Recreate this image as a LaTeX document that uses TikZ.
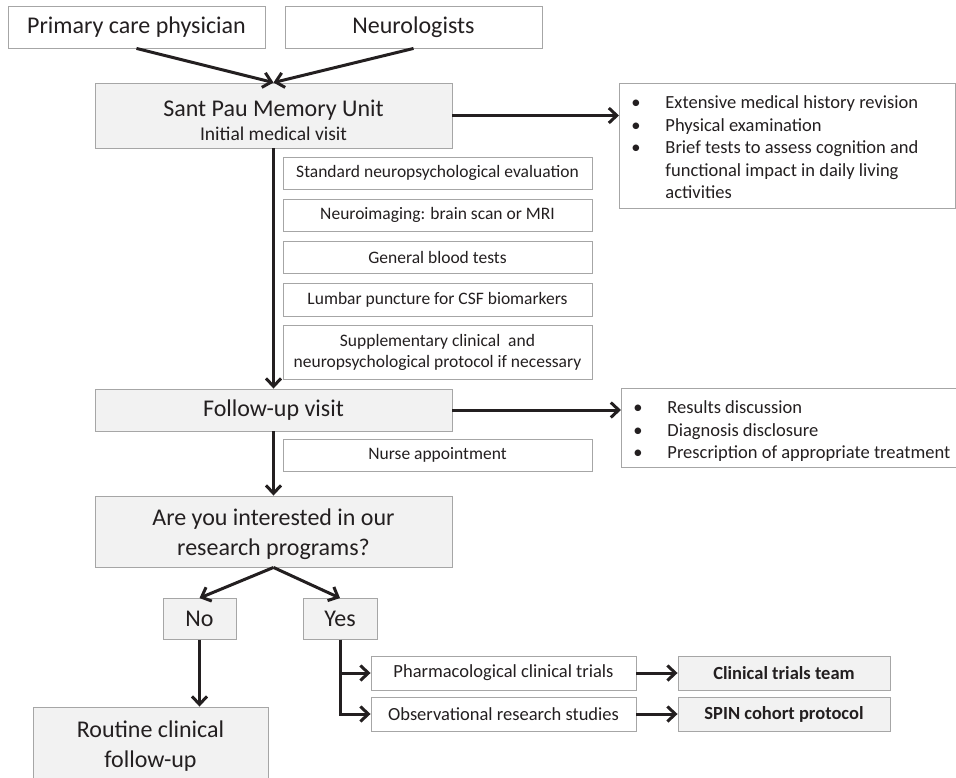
\documentclass[tikz,border=0pt]{standalone}
\usepackage{fontspec}
\setmainfont{Carlito}
\usetikzlibrary{arrows.meta}

\definecolor{boxfill}{HTML}{F2F2F2}
\definecolor{boxline}{HTML}{A6A6A6}
\definecolor{ink}{HTML}{231F20}

\newcommand{\bigtxt}{\fontsize{24}{30}\selectfont}
\newcommand{\midtxt}{\fontsize{19.5}{23}\selectfont}
\newcommand{\smalltxt}{\fontsize{17.5}{21}\selectfont}
\newcommand{\optxt}{\fontsize{18.5}{22}\selectfont}
\newcommand{\listtxt}{\fontsize{18.5}{22.5}\selectfont}
\newcommand{\bul}{\makebox[34pt][l]{\textbullet}}

\tikzset{
  plainbox/.style={draw=boxline, fill=white, line width=0.9pt, inner sep=0pt, align=center, text=ink},
  shadedbox/.style={plainbox, fill=boxfill},
  listbox/.style={plainbox, align=flush left, anchor=north west, inner xsep=12pt, font=\listtxt},
  flow/.style={draw=ink, line width=3pt, -{Straight Barb[length=8pt,width=15pt]}}
}

\begin{document}
\begin{tikzpicture}[x=1pt, y=-1pt]

    \path[use as bounding box, clip] (0,0) rectangle (956,777);

    % referring doctors
    \node[plainbox, font=\bigtxt, minimum width=257, minimum height=42] (primary) at (136.5,27) {Primary care physician};
    \node[plainbox, font=\bigtxt, minimum width=257, minimum height=42] (neuro) at (413.5,27) {Neurologists};

    % memory unit
    \node[shadedbox, font=\bigtxt, minimum width=357, minimum height=65] (santpau) at (273.5,115.5)
        {\rule{0pt}{26pt}Sant Pau Memory Unit\\[-6pt]{\midtxt Initial medical visit}};
    \node[listbox, minimum width=336, minimum height=125, text width=312] (visitlist) at (619,83)
        {\rule{0pt}{16pt}\bul Extensive medical history revision\\
         \bul Physical examination\\
         \bul Brief tests to assess cognition and\\
         \hspace*{34pt}functional impact in daily living\\
         \hspace*{34pt}activities};

    % tests
    \node[plainbox, font=\smalltxt, minimum width=309, minimum height=32] (neuropsy) at (437.5,173) {Standard neuropsychological evaluation};
    \node[plainbox, font=\smalltxt, minimum width=309, minimum height=32] (imaging) at (437.5,215) {Neuroimaging: brain scan or MRI};
    \node[plainbox, font=\smalltxt, minimum width=309, minimum height=32] (blood) at (437.5,257) {General blood tests};
    \node[plainbox, font=\smalltxt, minimum width=309, minimum height=33] (lumbar) at (437.5,299.5) {Lumbar puncture for CSF biomarkers};
    \node[plainbox, font=\smalltxt, minimum width=309, minimum height=54] (extra) at (437.5,352)
        {Supplementary clinical\ \ and\\neuropsychological protocol if necessary};

    % follow-up
    \node[shadedbox, font=\bigtxt, minimum width=357, minimum height=42] (followup) at (273.5,410) {Follow-up visit};
    \node[listbox, minimum width=345, minimum height=79, text width=330] (resultlist) at (621,388)
        {\rule{0pt}{19.5pt}\bul Results discussion\\
         \bul Diagnosis disclosure\\
         \bul Prescription of appropriate treatment};
    \node[plainbox, font=\smalltxt, minimum width=309, minimum height=32] (nurse) at (437.5,455) {Nurse appointment};

    % research question
    \node[shadedbox, font=\bigtxt, minimum width=357, minimum height=71] (question) at (273.5,531.5)
        {\rule{0pt}{22pt}Are you interested in our\\research programs?};
    \node[shadedbox, font=\bigtxt, minimum width=73, minimum height=41] (no) at (199.5,619) {No};
    \node[shadedbox, font=\bigtxt, minimum width=74, minimum height=41] (yes) at (340,619) {Yes};
    \node[shadedbox, font=\bigtxt, minimum width=235, minimum height=72] (routine) at (150.5,743)
        {\rule{0pt}{22pt}Routine clinical\\follow-up};

    % research options
    \node[plainbox, font=\optxt, minimum width=265, minimum height=34] (pharma) at (503.5,673) {Pharmacological clinical trials};
    \node[plainbox, font=\optxt, minimum width=265, minimum height=34] (observ) at (503.5,714) {Observational research studies};
    \node[shadedbox, font=\optxt\bfseries, minimum width=212, minimum height=34] (trialsteam) at (784,673) {Clinical trials team};
    \node[shadedbox, font=\optxt\bfseries, minimum width=212, minimum height=34] (spin) at (784,714) {SPIN cohort protocol};

    % draw arrows
    \draw[flow] (primary.south) -- (santpau.north);
    \draw[flow] (neuro.south) -- (santpau.north);
    \draw[flow] (santpau.east) -- (santpau.east -| visitlist.west);
    \draw[flow] (santpau.south) -- (followup.north);
    \draw[flow] (followup.east) -- (followup.east -| resultlist.west);
    \draw[flow] (followup.south) -- (question.north);
    \draw[flow] (question.south) -- (no.north);
    \draw[flow] (question.south) -- (yes.north);
    \draw[flow] (no.south) -- (no.south |- routine.north);
    \draw[flow] (yes.south) |- (pharma.west);
    \draw[flow] (yes.south) |- (observ.west);
    \draw[flow] (pharma.east) -- (trialsteam.west);
    \draw[flow] (observ.east) -- (spin.west);

\end{tikzpicture}
\end{document}
